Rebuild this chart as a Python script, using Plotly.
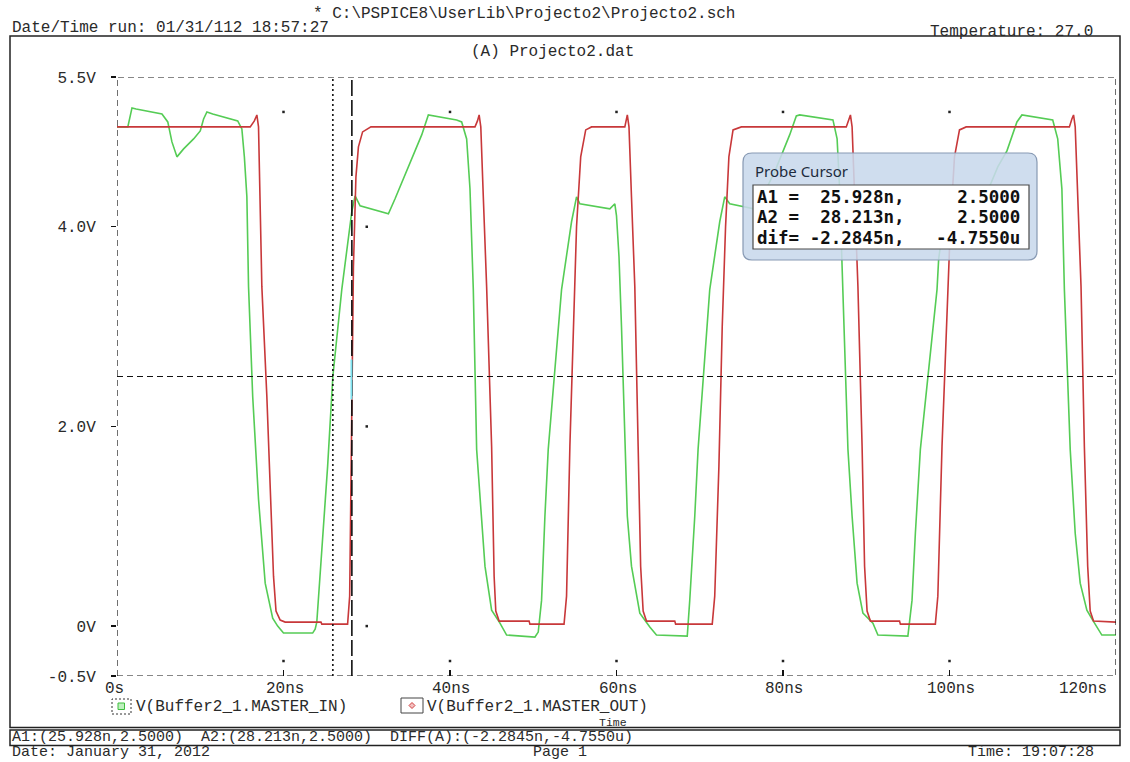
import plotly.graph_objects as go

# ---------------- data (time in ns, voltage in V) ----------------
red_t = [0, 16.0, 16.5, 16.8, 17.0, 17.2, 17.4, 18.0, 18.5, 18.8, 19.1, 19.6, 20.2, 24.5, 24.6, 27.7,
         27.95, 28.1, 28.213, 28.4, 28.7, 29.0, 29.5, 30.5, 43.0, 43.3, 43.5, 43.7, 44.0, 44.4, 45.0,
         45.3, 45.5, 45.9, 49.5, 49.6, 53.7, 54.0, 54.4, 54.8, 55.2, 55.7, 56.3, 57.0, 61.0, 61.3,
         61.5, 61.8, 62.2, 62.6, 62.9, 63.2, 63.6, 67.0, 67.1, 71.5, 71.8, 72.3, 72.7, 73.1, 73.5,
         74.0, 75.0, 87.6, 87.9, 88.1, 88.3, 88.6, 89.0, 89.5, 89.8, 90.1, 90.5, 94.0, 94.1, 98.3,
         98.6, 99.1, 99.6, 100.1, 100.6, 101.2, 102.0, 114.4, 114.7, 114.9, 115.1, 115.4, 115.8,
         116.2, 116.6, 116.9, 117.3, 120.0]
red_v = [5.0, 5.0, 5.06, 5.12, 5.0, 4.3, 3.4, 2.3, 1.2, 0.5, 0.15, 0.06, 0.04, 0.04, 0.02, 0.02,
         0.3, 1.5, 2.5, 3.6, 4.5, 4.8, 4.95, 5.0, 5.0, 5.06, 5.12, 5.0, 4.3, 3.4, 1.8,
         0.5, 0.15, 0.05, 0.05, 0.02, 0.02, 0.3, 1.8, 3.0, 4.0, 4.7, 4.97, 5.0, 5.0, 5.12,
         5.0, 4.3, 3.4, 1.8, 0.6, 0.15, 0.05, 0.05, 0.02, 0.02, 0.3, 1.6, 3.0, 4.0, 4.7,
         4.97, 5.0, 5.0, 5.08, 5.12, 5.0, 4.3, 3.4, 1.8, 0.6, 0.15, 0.05, 0.05, 0.02, 0.02,
         0.3, 1.8, 3.0, 4.0, 4.7, 4.97, 5.0, 5.0, 5.08, 5.12, 5.0, 4.3, 3.4,
         1.8, 0.6, 0.15, 0.05, 0.04]

green_t = [0, 1.3, 1.8, 2.3, 5.4, 6.1, 6.6, 7.2, 8.0, 9.2, 10.0, 10.4, 10.8, 11.5, 14.5, 15.0, 15.3,
           15.6, 15.8, 16.3, 17.0, 17.8, 18.7, 19.3, 20.0, 23.5, 23.8, 24.0, 24.6, 25.3, 25.928, 27.0,
           28.2, 28.6, 29.2, 32.6, 33.4, 35.2, 36.6, 37.4, 38.0, 40.8, 41.4, 42.0, 42.4, 42.8, 43.2,
           43.6, 44.2, 45.0, 46.0, 46.8, 50.2, 50.6, 51.0, 51.4, 51.8, 53.4, 54.6, 55.2, 55.6, 59.2,
           59.8, 60.0, 60.3, 60.6, 61.0, 61.3, 61.8, 62.8, 64.0, 64.8, 68.5, 68.8, 69.4, 69.8, 71.2,
           72.4, 73.0, 73.6, 76.5, 77.5, 79.0, 80.0, 80.8, 81.6, 82.0, 86.0, 86.5, 86.8, 87.2, 87.8,
           88.3, 88.9, 89.6, 90.8, 91.4, 95.0, 95.5, 95.9, 96.5, 98.5, 98.7, 99.5, 99.9, 100.4,
           103.5, 104.3, 105.8, 106.9, 108.1, 108.7, 112.4, 113.0, 113.5, 113.8, 114.5, 115.1, 115.7,
           116.5, 117.2, 118.3, 120.0]
green_v = [5.0, 5.0, 5.19, 5.18, 5.13, 5.05, 4.85, 4.70, 4.78, 4.88, 4.96, 5.08, 5.15, 5.13, 5.06, 4.98, 4.7,
           4.3, 3.4, 2.3, 1.27, 0.43, 0.08, 0.0, -0.07, -0.07, -0.03, 0.04, 0.76, 1.6, 2.5, 3.37,
           4.15, 4.31, 4.21, 4.13, 4.28, 4.65, 4.92, 5.12, 5.11, 5.07, 5.05, 4.88, 4.38, 3.37, 1.77,
           1.27, 0.6, 0.16, 0.03, -0.09, -0.11, -0.06, 0.26, 1.1, 1.77, 3.37, 4.05, 4.3, 4.23, 4.18,
           4.23, 4.11, 3.7, 3.0, 1.9, 1.1, 0.6, 0.13, -0.01, -0.09, -0.1, 0.26, 1.1, 1.77, 3.37,
           4.05, 4.3, 4.23, 4.18, 4.3, 4.55, 4.75, 4.92, 5.11, 5.12, 5.07, 4.88, 4.38, 3.37, 1.77,
           1.1, 0.43, 0.13, 0.03, -0.09, -0.1, 0.26, 0.93, 1.77, 3.37, 3.68, 4.15, 4.31, 4.21,
           4.15, 4.3, 4.6, 4.76, 5.05, 5.12, 5.07, 4.88, 4.38, 3.37, 1.77, 0.93, 0.43,
           0.16, 0.06, -0.09, -0.09]

x_tick_vals = [0, 20, 40, 60, 80, 100, 120]
x_tick_text = ["0s", "20ns", "40ns", "60ns", "80ns", "100ns", "120ns"]
y_tick_vals = [5.5, 4.0, 2.0, 0.0, -0.5]
y_tick_text = ["5.5V", "4.0V", "2.0V", "0V", "-0.5V"]

cursor_a1 = 25.928
cursor_a2 = 28.213
cursor_level = 2.5

dot_t = [20, 40, 60, 80, 100, 20, 40, 60, 80, 100, 30, 30, 30]
dot_v = [5.15, 5.15, 5.15, 5.15, 5.15, -0.35, -0.35, -0.35, -0.35, -0.35, 4.0, 2.0, 0.0]

# ---------------- layout helpers ----------------
W, H = 1130, 762
L, R, T, B = 117, 1116, 77, 676
PW, PH = R - L, B - T


def px(x):
    return (x - L) / PW


def py(y):
    return (B - y) / PH


MONO = "Liberation Mono, Courier New, monospace"
TXT = "#2a2a2a"
RED = "#c8383a"
GREEN = "#55cc55"

fig = go.Figure()
fig.add_trace(go.Scatter(x=green_t, y=green_v, mode="lines", line=dict(color=GREEN, width=1.6),
                         name="V(Buffer2_1.MASTER_IN)", hoverinfo="skip"))
fig.add_trace(go.Scatter(x=red_t, y=red_v, mode="lines", line=dict(color=RED, width=1.6),
                         name="V(Buffer2_1.MASTER_OUT)", hoverinfo="skip"))
fig.add_trace(go.Scatter(x=dot_t, y=dot_v, mode="markers",
                         marker=dict(color="#222", size=2.5, symbol="square"), hoverinfo="skip"))

shapes = []
# outer frames
shapes.append(dict(type="rect", xref="paper", yref="paper", x0=px(10), x1=px(1120), y0=py(727.5), y1=py(36),
                   line=dict(color="#222", width=1.5), layer="below"))
shapes.append(dict(type="rect", xref="paper", yref="paper", x0=px(10), x1=px(1120), y0=py(745.5), y1=py(730),
                   line=dict(color="#222", width=1.5), layer="below"))
# dashed plot border
shapes.append(dict(type="rect", xref="x", yref="y", x0=0, x1=120, y0=-0.5, y1=5.5,
                   line=dict(color="#111", width=1.2, dash="6px,4px")))
# cursor lines
shapes.append(dict(type="line", xref="x", yref="y", x0=0, x1=120, y0=cursor_level, y1=cursor_level,
                   line=dict(color="#111", width=1.2, dash="6px,4px")))
shapes.append(dict(type="line", xref="x", yref="y", x0=cursor_a1, x1=cursor_a1, y0=-0.5, y1=5.5,
                   line=dict(color="#111", width=1.6, dash="2px,3px")))
shapes.append(dict(type="line", xref="x", yref="y", x0=cursor_a2, x1=cursor_a2, y0=-0.5, y1=5.5,
                   line=dict(color="#111", width=1.6, dash="16px,4px")))
shapes.append(dict(type="line", xref="x", yref="y", x0=cursor_a2 - 0.05, x1=cursor_a2 - 0.05, y0=2.27, y1=2.67,
                   line=dict(color="#7fe3f0", width=2)))

# legend symbols
shapes.append(dict(type="rect", xref="paper", yref="paper", x0=px(112), x1=px(131), y0=py(714), y1=py(699),
                   line=dict(color="#333", width=1, dash="2px,2px")))
shapes.append(dict(type="rect", xref="paper", yref="paper", x0=px(118), x1=px(124.5), y0=py(709.5), y1=py(703),
                   line=dict(color="#3fbf3f", width=1), fillcolor="#bff0bf"))
shapes.append(dict(type="rect", xref="paper", yref="paper", x0=px(401), x1=px(423), y0=py(713), y1=py(698),
                   line=dict(color="#444", width=1)))
cx, cy = 412, 705.5
shapes.append(dict(type="path", xref="paper", yref="paper",
                   path=f"M {px(cx-3)},{py(cy)} L {px(cx)},{py(cy-3)} L {px(cx+3)},{py(cy)} L {px(cx)},{py(cy+3)} Z",
                   line=dict(color="#d04040", width=1), fillcolor="#f3c0c0"))

# probe cursor box (rounded)
bx0, bx1, by0, by1, rr = 743, 1037, 153, 260, 9
rx, ry = rr / PW, rr / PH
X0, X1, Y0, Y1 = px(bx0), px(bx1), py(by1), py(by0)
path = (f"M {X0+rx},{Y1} L {X1-rx},{Y1} Q {X1},{Y1} {X1},{Y1-ry} L {X1},{Y0+ry} Q {X1},{Y0} {X1-rx},{Y0} "
        f"L {X0+rx},{Y0} Q {X0},{Y0} {X0},{Y0+ry} L {X0},{Y1-ry} Q {X0},{Y1} {X0+rx},{Y1} Z")
shapes.append(dict(type="path", xref="paper", yref="paper", path=path,
                   line=dict(color="#8799b3", width=1.2), fillcolor="rgba(200,216,236,0.88)", layer="above"))
shapes.append(dict(type="rect", xref="paper", yref="paper", x0=px(753), x1=px(1029), y0=py(249), y1=py(185),
                   line=dict(color="#4a4a4a", width=1.2), fillcolor="white", layer="above"))
fig.update_layout(shapes=shapes)

ann = []


def text(s, x, y, xanchor="left", size=16, color=TXT, family=MONO, xref="paper", **kw):
    ann.append(dict(text=s, x=px(x) if xref == "paper" else x, y=py(y), xref=xref, yref="paper",
                    xanchor=xanchor, yanchor="middle", showarrow=False, borderpad=0,
                    font=dict(family=family, size=size, color=color), **kw))


# header
text("* C:\\PSPICE8\\UserLib\\Projecto2\\Projecto2.sch", 524, 14, "center")
text("Date/Time run: 01/31/112 18:57:27", 11, 28, "left")
text("Temperature: 27.0", 1094, 32, "right")
text("(A) Projecto2.dat", 552, 52, "center")

# x tick labels
for v, s in zip(x_tick_vals, x_tick_text):
    if v == 0:
        xa, sh = "center", -3
    elif v == 120:
        xa, sh = "right", -8
    else:
        xa, sh = "center", 1
    ann.append(dict(text=s, x=v, y=py(688.5), xref="x", yref="paper", xanchor=xa, yanchor="middle",
                    showarrow=False, xshift=sh, borderpad=0, font=dict(family=MONO, size=16, color=TXT)))

# legend texts
text("V(Buffer2_1.MASTER_IN)", 135, 706.5, "left")
text("V(Buffer2_1.MASTER_OUT)", 426, 706.5, "left")
text("Time", 613, 722, "center", size=11.5)

# bottom lines
text("A1:(25.928n,2.5000)  A2:(28.213n,2.5000)  DIFF(A):(-2.2845n,-4.7550u)", 11, 737.5, "left", size=15)
text("Date: January 31, 2012", 11, 752.5, "left", size=15)
text("Page 1", 560, 752.5, "center", size=15)
text("Time: 19:07:28", 1095, 752.5, "right", size=15)

# probe cursor box texts
text("Probe Cursor", 754, 171, "left", size=15, color="#1d2b3d", family="Noto Sans, Open Sans, sans-serif")
PB = "DejaVu Sans Mono, monospace"
text("<b>A1 =  25.928n,     2.5000</b>", 756, 197, "left", size=17.5, color="#111", family=PB)
text("<b>A2 =  28.213n,     2.5000</b>", 756, 217.5, "left", size=17.5, color="#111", family=PB)
text("<b>dif= -2.2845n,   -4.7550u</b>", 756, 238, "left", size=17.5, color="#111", family=PB)

fig.update_layout(annotations=ann)

fig.update_layout(
    width=W, height=H,
    margin=dict(l=L, r=W - R, t=T, b=H - B, pad=0),
    paper_bgcolor="white", plot_bgcolor="white",
    showlegend=False,
    hovermode=False,
    xaxis=dict(range=[0, 120], showgrid=False, zeroline=False, showline=False,
               tickvals=[20, 40, 60, 80, 100], ticks="inside", ticklen=6, tickcolor="#111", tickwidth=1.2,
               showticklabels=False, fixedrange=True),
    yaxis=dict(range=[-0.5, 5.5], showgrid=False, zeroline=False, showline=False,
               tickvals=y_tick_vals, ticktext=y_tick_text, ticks="outside", ticklen=5, tickcolor="#111",
               tickwidth=1.2, ticklabelstandoff=12, tickfont=dict(family=MONO, size=16, color=TXT),
               fixedrange=True),
)

fig.write_html("out.html", config={"displayModeBar": False, "staticPlot": True},
               post_script="document.body.style.margin='0px';document.body.style.overflow='hidden';"
                           "document.documentElement.style.overflow='hidden';")
